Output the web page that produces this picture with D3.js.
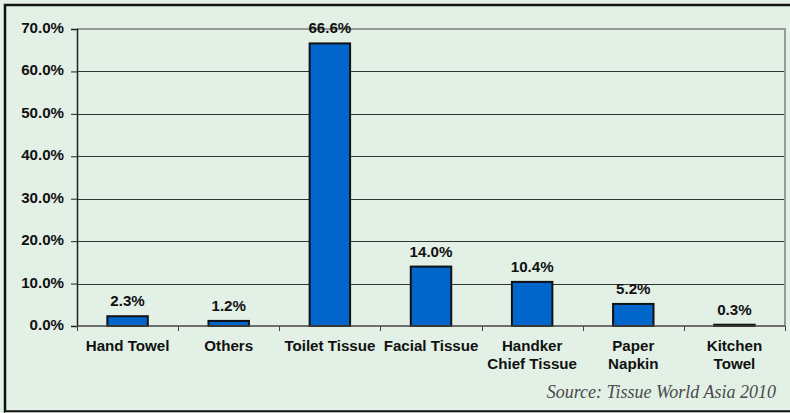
<!DOCTYPE html>
<html><head><meta charset="utf-8">
<script src="https://cdn.jsdelivr.net/npm/d3@7"></script>
<style>
html,body{margin:0;padding:0;background:#e2f0e6;}
svg{display:block;}
</style></head>
<body>
<svg id="chart" width="790" height="413"></svg>
<script>
const categories = [["Hand Towel"],["Others"],["Toilet Tissue"],["Facial Tissue"],["Handker","Chief Tissue"],["Paper","Napkin"],["Kitchen","Towel"]];
const values = [2.3, 1.2, 66.6, 14.0, 10.4, 5.2, 0.3];
const yTicks = [0,10,20,30,40,50,60,70];
const source = "Source: Tissue World Asia 2010";

const svg = d3.select("#chart");
const W = 790, H = 413;
const m = {left:77, right:5, top:29, bottom:87};
const x0 = m.left, x1 = W - m.right, y0 = H - m.bottom, y1 = m.top;
const FONT = "Arial, 'Liberation Sans', sans-serif";

// outer frame
svg.append("rect").attr("x",0).attr("y",0).attr("width",W).attr("height",H).attr("fill","#e2f0e6");
svg.append("rect").attr("x",5).attr("y",5).attr("width",W+20).attr("height",H-5-1.5)
  .attr("fill","none").attr("stroke","#111").attr("stroke-width",2.5);
svg.append("line").attr("x1",5).attr("x2",W).attr("y1",H-0.5).attr("y2",H-0.5).attr("stroke","#bbb");

const x = d3.scaleBand().domain(categories.map((d,i)=>i)).range([x0,x1]).paddingInner(0.6).paddingOuter(0.3);
const xt = d3.scaleBand().domain(categories.map((d,i)=>i)).range([x0,x1]);
const y = d3.scaleLinear().domain([0,70]).range([y0,y1]);

const fmt = d => d.toFixed(1) + "%";
const sx = 1.08;

function label(sel){
  return sel.style("font-family",FONT).style("font-weight","bold").style("font-size","14px").style("fill","#111");
}

// gridlines
svg.append("g").selectAll("line").data(yTicks.filter(t=>t>0 && t<70)).join("line")
  .attr("x1",x0).attr("x2",x1).attr("y1",d=>Math.round(y(d))+0.5).attr("y2",d=>Math.round(y(d))+0.5)
  .attr("stroke","#333").attr("stroke-width",1);
// plot border top/right (gray)
svg.append("path").attr("d",`M${x0},${y1}H${x1}V${y0}`).attr("fill","none").attr("stroke","#999").attr("stroke-width",2);

// y axis
const yAxis = svg.append("g").attr("transform",`translate(${x0},0)`)
  .call(d3.axisLeft(y).tickValues(yTicks).tickFormat("").tickSize(6));
yAxis.select(".domain").attr("stroke","#222").attr("stroke-width",1.5);
yAxis.selectAll(".tick line").attr("stroke","#222");
label(svg.append("g").selectAll("text").data(yTicks).join("text"))
  .attr("text-anchor","end")
  .attr("transform",d=>`translate(64,${y(d)+4}) scale(${sx},1)`)
  .text(fmt);

// bars
svg.append("g").selectAll("rect").data(values).join("rect")
  .attr("x",(d,i)=>x(i)).attr("width",x.bandwidth())
  .attr("y",d=>y(d)).attr("height",d=>Math.max(0,y0-y(d)))
  .attr("fill","#0066cc").attr("stroke","#111").attr("stroke-width",2);

// x axis
const xAxis = svg.append("g").attr("transform",`translate(0,${y0})`);
xAxis.append("line").attr("x1",x0).attr("x2",x1).attr("y1",0).attr("y2",0).attr("stroke","#444").attr("stroke-width",1.5);
xAxis.selectAll("line.tk").data(d3.range(categories.length+1)).join("line").attr("class","tk")
  .attr("x1",i=>Math.round(x0 + i*xt.step())+0.5).attr("x2",i=>Math.round(x0 + i*xt.step())+0.5)
  .attr("y1",0).attr("y2",5).attr("stroke","#444");

// category labels
const cl = label(svg.append("g").selectAll("text").data(categories).join("text"))
  .attr("text-anchor","middle")
  .attr("transform",(d,i)=>`translate(${xt(i)+xt.bandwidth()/2},${y0+25}) scale(${sx},1)`);
cl.selectAll("tspan").data(d=>d).join("tspan").attr("x",0).attr("dy",(d,j)=>j===0?0:18).text(d=>d);

// value labels
label(svg.append("g").selectAll("text").data(values).join("text"))
  .attr("text-anchor","middle")
  .attr("transform",(d,i)=>`translate(${x(i)+x.bandwidth()/2},${y(d)-10}) scale(${sx},1)`)
  .text(fmt);

// source
svg.append("text").attr("x",776).attr("y",398).attr("text-anchor","end")
  .style("font-family","'Liberation Serif','Times New Roman',serif").style("font-style","italic")
  .style("font-weight","normal").style("font-size","18px").style("fill","#4a4a4a").text(source);
</script>
</body></html>
